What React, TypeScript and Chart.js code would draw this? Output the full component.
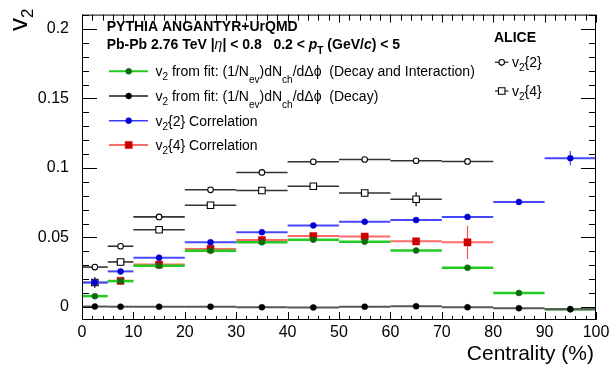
import React, { useEffect, useRef } from "react";
import { Chart, registerables } from "chart.js";

Chart.register(...registerables);

// Centrality bins (%)
const binLow = [0, 5, 10, 20, 30, 40, 50, 60, 70, 80, 90];
const binHigh = [5, 10, 20, 30, 40, 50, 60, 70, 80, 90, 100];

// ALICE measurements
const aliceV22 = [0.0287, 0.0437, 0.0648, 0.0843, 0.0968, 0.1045, 0.1061, 0.1052, 0.1047, null, null];
const aliceV22Err = [0, 0, 0, 0, 0, 0, 0, 0, 0, 0, 0];
const aliceV24 = [0.0176, 0.0324, 0.0556, 0.0732, 0.0838, 0.0869, 0.082, 0.0775, null, null, null];
const aliceV24Err = [0.0037, 0, 0, 0, 0, 0, 0, 0.005, 0, 0, 0];

// PYTHIA Angantyr + UrQMD
const fitDecayInteraction = [0.0078, 0.0186, 0.0296, 0.0404, 0.0465, 0.0484, 0.047, 0.0406, 0.0282, 0.0101, -0.0016];
const fitDecay = [0.0003, 0.0002, 0.0002, 0.0002, -0.0002, -0.0003, 0.0002, 0.0005, -0.0002, -0.0009, -0.0016];
const corrV22 = [0.0176, 0.0256, 0.0355, 0.0465, 0.0538, 0.0587, 0.0613, 0.0625, 0.0648, 0.0756, 0.107];
const corrV22Err = [0, 0, 0, 0, 0, 0, 0, 0, 0, 0, 0.0053];
const corrV24 = [null, 0.0188, 0.0305, 0.0418, 0.0482, 0.051, 0.0507, 0.0472, 0.0465, null, null];
const corrV24Err = [0, 0, 0, 0, 0, 0, 0, 0.0025, 0.012, 0, 0];

// Axis ticks
const xTickValues = [0, 10, 20, 30, 40, 50, 60, 70, 80, 90, 100];
const xTickLabels = ["0", "10", "20", "30", "40", "50", "60", "70", "80", "90", "100"];
const yTickValues = [0, 0.05, 0.1, 0.15, 0.2];
const yTickLabels = ["0", "0.05", "0.1", "0.15", "0.2"];
const xMinorStep = 2;
const yMinorStep = 0.01;

const FONT = "'Liberation Sans', Arial, Helvetica, sans-serif";

type Seg = { t: string; size: number; bold?: boolean; italic?: boolean; dy?: number };

function drawRich(ctx: CanvasRenderingContext2D, x: number, y: number, segs: Seg[]) {
  let cx = x;
  for (const s of segs) {
    ctx.font = `${s.italic ? "italic " : ""}${s.bold ? "bold " : ""}${s.size}px ${FONT}`;
    ctx.fillText(s.t, cx, y + (s.dy || 0));
    cx += ctx.measureText(s.t).width;
  }
  return cx;
}

function toPoints(vals: (number | null)[]) {
  const pts: { x: number; y: number; i: number }[] = [];
  vals.forEach((v, i) => {
    if (v !== null) pts.push({ x: (binLow[i] + binHigh[i]) / 2, y: v, i });
  });
  return pts;
}

function drawMarker(ctx: CanvasRenderingContext2D, style: string, x: number, y: number, r: number, fill: string, stroke: string, lw: number) {
  ctx.beginPath();
  if (style === "rect") {
    const h = Math.SQRT1_2 * r;
    ctx.rect(x - h, y - h, 2 * h, 2 * h);
  } else {
    ctx.arc(x, y, r, 0, Math.PI * 2);
  }
  ctx.fillStyle = fill;
  ctx.fill();
  ctx.lineWidth = lw;
  ctx.strokeStyle = stroke;
  ctx.stroke();
}

const v2sub = (size: number, sub: number, dy: number): Seg[] => [
  { t: "v", size },
  { t: "2", size: sub, dy },
];

// Horizontal bin-width bars and vertical errors, drawn under each dataset's markers
const binBars = {
  id: "binBars",
  beforeDatasetDraw(chart: any, args: any) {
    const ds = chart.data.datasets[args.index];
    if (!ds.binBar) return;
    const { ctx, scales } = chart;
    const xs = scales.x;
    const ys = scales.y;
    ctx.save();
    ctx.strokeStyle = ds.binBar.color;
    ctx.lineWidth = ds.binBar.width;
    ds.data.forEach((p: any) => {
      const y = ys.getPixelForValue(p.y);
      ctx.beginPath();
      ctx.moveTo(xs.getPixelForValue(binLow[p.i]), y);
      ctx.lineTo(xs.getPixelForValue(binHigh[p.i]), y);
      ctx.stroke();
      const e = ds.errY ? ds.errY[p.i] : 0;
      if (e) {
        const x = xs.getPixelForValue(p.x);
        ctx.beginPath();
        ctx.lineWidth = ds.binBar.errWidth || 1.2;
        ctx.strokeStyle = ds.binBar.errColor || ds.binBar.color;
        ctx.moveTo(x, ys.getPixelForValue(p.y - e));
        ctx.lineTo(x, ys.getPixelForValue(p.y + e));
        ctx.stroke();
        ctx.lineWidth = ds.binBar.width;
        ctx.strokeStyle = ds.binBar.color;
      }
    });
    ctx.restore();
  },
};

// Frame, inward ticks on all sides, titles and legends
const decorations = {
  id: "decorations",
  afterDraw(chart: any) {
    const { ctx, chartArea: a, scales } = chart;
    const xs = scales.x;
    const ys = scales.y;
    ctx.save();
    ctx.strokeStyle = "#000";
    ctx.lineWidth = 1;
    ctx.strokeRect(a.left + 0.5, a.top + 0.5, a.right - a.left - 1, a.bottom - a.top - 1);

    ctx.beginPath();
    for (let v = 0; v <= 100 + 1e-9; v += xMinorStep) {
      const major = Math.abs(v / 10 - Math.round(v / 10)) < 1e-6;
      const x = Math.round(xs.getPixelForValue(v)) + 0.5;
      const lb = major ? 8 : 4;
      const lt = major ? 8 : 6;
      ctx.moveTo(x, a.bottom);
      ctx.lineTo(x, a.bottom - lb);
      ctx.moveTo(x, a.top);
      ctx.lineTo(x, a.top + lt);
    }
    for (let k = -1; k <= 22; k++) {
      const v = k * yMinorStep;
      if (v < ys.min || v > ys.max) continue;
      const major = k % 5 === 0;
      const y = Math.round(ys.getPixelForValue(v)) + 0.5;
      const l = major ? 15 : 7;
      ctx.moveTo(a.left, y);
      ctx.lineTo(a.left + l, y);
      ctx.moveTo(a.right, y);
      ctx.lineTo(a.right - l, y);
    }
    ctx.stroke();

    ctx.fillStyle = "#000";
    ctx.textBaseline = "alphabetic";
    ctx.textAlign = "left";

    // X title, right-aligned
    ctx.font = `21px ${FONT}`;
    ctx.textAlign = "right";
    ctx.fillText("Centrality (%)", a.right - 2, 360);
    ctx.textAlign = "left";

    // Y title, rotated
    ctx.save();
    ctx.translate(27, 31);
    ctx.rotate(-Math.PI / 2);
    drawRich(ctx, 0, 0, v2sub(26, 17, 6));
    ctx.restore();

    // Header
    drawRich(ctx, 106.7, 31, [{ t: "PYTHIA ANGANTYR+UrQMD", size: 14, bold: true }]);
    drawRich(ctx, 106.7, 48.5, [
      { t: "Pb-Pb 2.76 TeV |", size: 14, bold: true },
      { t: "η", size: 14, italic: true },
      { t: "| < 0.8   0.2 < ", size: 14, bold: true },
      { t: "p", size: 14, bold: true, italic: true },
      { t: "T", size: 10, bold: true, dy: 5 },
      { t: " (GeV/", size: 14, bold: true },
      { t: "c", size: 14, bold: true, italic: true },
      { t: ") < 5", size: 14, bold: true },
    ]);

    // Model legend
    const fitLabel = (tail: string): Seg[] => [
      ...v2sub(14, 10, 4),
      { t: " from fit: (1/N", size: 14 },
      { t: "ev", size: 10, dy: 7 },
      { t: ")dN", size: 14 },
      { t: "ch", size: 10, dy: 7 },
      { t: "/dΔϕ  " + tail, size: 14 },
    ];
    const rows = [
      { y: 71.3, line: "#22cc22", lw: 2, style: "circle", r: 3, fill: "#0b6b0b", label: fitLabel("(Decay and Interaction)") },
      { y: 96, line: "#555555", lw: 2, style: "circle", r: 3, fill: "#000000", label: fitLabel("(Decay)") },
      { y: 120.7, line: "#3a3aff", lw: 1.5, style: "circle", r: 3, fill: "#0000d0", label: [...v2sub(14, 10, 4), { t: "{2} Correlation", size: 14 }] },
      { y: 145, line: "#ff6a6a", lw: 2, style: "rect", r: 5, fill: "#cc0000", label: [...v2sub(14, 10, 4), { t: "{4} Correlation", size: 14 }] },
    ];
    rows.forEach((row) => {
      ctx.beginPath();
      ctx.strokeStyle = row.line;
      ctx.lineWidth = row.lw;
      ctx.moveTo(109, row.y);
      ctx.lineTo(148, row.y);
      ctx.stroke();
      drawMarker(ctx, row.style, 128.7, row.y, row.r, row.fill, row.fill, 0.5);
      ctx.fillStyle = "#000";
      drawRich(ctx, 155.5, row.y + 5, row.label as Seg[]);
    });

    // ALICE legend
    drawRich(ctx, 494, 41.7, [{ t: "ALICE", size: 14, bold: true }]);
    const aRows = [
      { y: 62.3, style: "circle", r: 2.8, label: "{2}" },
      { y: 91, style: "rect", r: 4.6, label: "{4}" },
    ];
    aRows.forEach((row) => {
      ctx.beginPath();
      ctx.strokeStyle = "#222";
      ctx.lineWidth = 1.2;
      ctx.moveTo(495, row.y);
      ctx.lineTo(508.5, row.y);
      ctx.stroke();
      drawMarker(ctx, row.style, 501.7, row.y, row.r, "#fff", "#000", 1.1);
      ctx.fillStyle = "#000";
      drawRich(ctx, 512, row.y + 5, [...v2sub(14, 10, 4), { t: row.label, size: 14 }]);
    });
    ctx.restore();
  },
};

export default function App() {
  const ref = useRef<HTMLCanvasElement>(null);

  useEffect(() => {
    if (!ref.current) return;
    const datasets: any[] = [
      {
        label: "v2 from fit (Decay)",
        data: toPoints(fitDecay),
        pointStyle: "circle",
        pointRadius: 3,
        backgroundColor: "#000",
        borderColor: "#000",
        borderWidth: 0.5,
        binBar: { color: "#555555", width: 2 },
      },
      {
        label: "v2 from fit (Decay and Interaction)",
        data: toPoints(fitDecayInteraction),
        pointStyle: "circle",
        pointRadius: 3,
        backgroundColor: "#0b6b0b",
        borderColor: "#0b6b0b",
        borderWidth: 0.5,
        binBar: { color: "#22cc22", width: 2.5 },
      },
      {
        label: "v2{2} Correlation",
        data: toPoints(corrV22),
        errY: corrV22Err,
        pointStyle: "circle",
        pointRadius: 3,
        backgroundColor: "#0000d0",
        borderColor: "#0000d0",
        borderWidth: 0.5,
        binBar: { color: "#4848ff", width: 2 },
      },
      {
        label: "v2{4} Correlation",
        data: toPoints(corrV24),
        errY: corrV24Err,
        pointStyle: "rect",
        pointRadius: 5,
        backgroundColor: "#cc0000",
        borderColor: "#cc0000",
        borderWidth: 0.5,
        binBar: { color: "#ff6a6a", width: 2, errColor: "#ff5050" },
      },
      {
        label: "ALICE v2{4}",
        data: toPoints(aliceV24),
        errY: aliceV24Err,
        pointStyle: "rect",
        pointRadius: 4.6,
        backgroundColor: "#fff",
        borderColor: "#000",
        borderWidth: 1.1,
        binBar: { color: "#333", width: 1.6, errColor: "#000" },
      },
      {
        label: "ALICE v2{2}",
        data: toPoints(aliceV22),
        errY: aliceV22Err,
        pointStyle: "circle",
        pointRadius: 2.8,
        backgroundColor: "#fff",
        borderColor: "#000",
        borderWidth: 1.1,
        binBar: { color: "#333", width: 1.6 },
      },
    ];

    const chart = new Chart(ref.current, {
      type: "scatter",
      data: { datasets },
      options: {
        responsive: false,
        animation: false,
        events: [],
        layout: { padding: { left: 0, right: 15, top: 8, bottom: 0 } },
        plugins: { legend: { display: false }, tooltip: { enabled: false } },
        scales: {
          x: {
            type: "linear",
            min: 0,
            max: 100,
            afterBuildTicks: (s: any) => {
              s.ticks = xTickValues.map((v) => ({ value: v }));
            },
            afterFit: (s: any) => {
              s.height = 47;
            },
            grid: { display: false },
            border: { display: false },
            ticks: {
              autoSkip: false,
              maxRotation: 0,
              padding: -5,
              color: "#000",
              font: { size: 16, family: FONT },
              callback: (_v: any, i: number) => xTickLabels[i],
            },
          },
          y: {
            type: "linear",
            min: -0.00937,
            max: 0.21035,
            afterBuildTicks: (s: any) => {
              s.ticks = yTickValues.map((v) => ({ value: v }));
            },
            afterFit: (s: any) => {
              s.width = 82;
            },
            grid: { display: false },
            border: { display: false },
            ticks: {
              autoSkip: false,
              padding: 5,
              color: "#000",
              font: { size: 16, family: FONT },
              callback: (_v: any, i: number) => yTickLabels[i],
            },
          },
        },
      },
      plugins: [binBars, decorations],
    });
    return () => chart.destroy();
  }, []);

  return (
    <div style={{ position: "absolute", left: 0, top: 0, width: 611, height: 367, background: "#fff" }}>
      <canvas ref={ref} width={611} height={367} style={{ display: "block" }} />
    </div>
  );
}
